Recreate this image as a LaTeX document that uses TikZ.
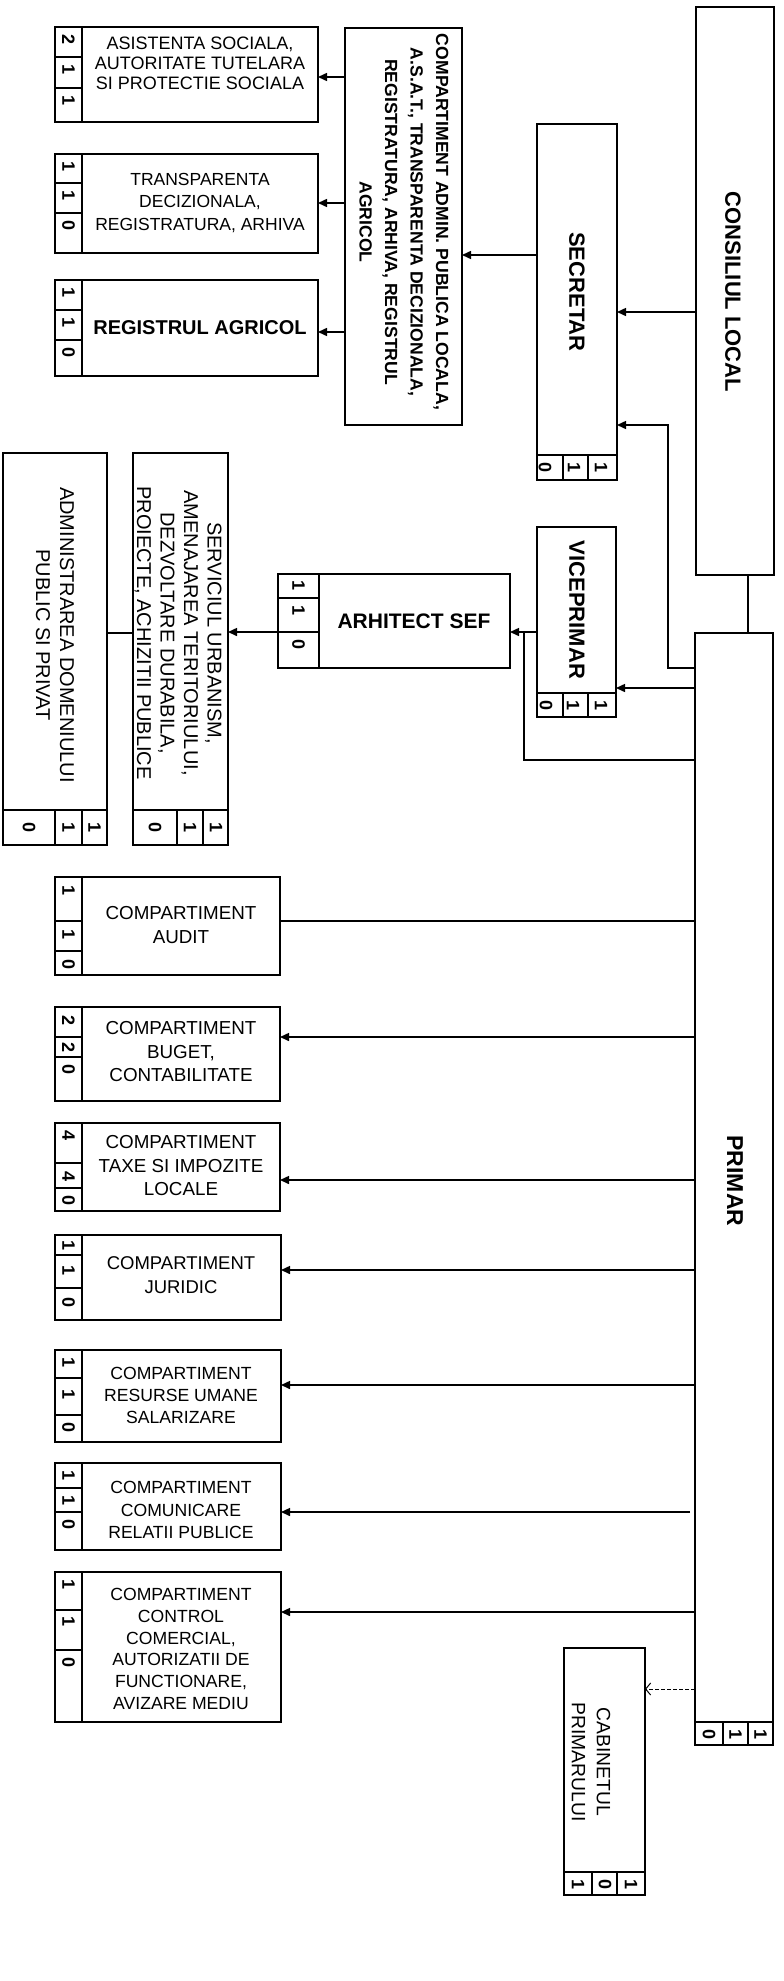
\documentclass[tikz,border=0pt]{standalone}
\usepackage{fontspec}
\setmainfont{Liberation Sans}
\usetikzlibrary{arrows.meta}
\newcommand\fs[2]{\fontsize{#1}{#2}\selectfont}
\tikzset{
  box/.style={draw, line width=2.4pt, inner sep=0pt, outer sep=0pt, anchor=north west},
  cell/.style={line width=1.8pt},
  conn/.style={line width=1.5pt},
  arr/.style={conn, -{Triangle[length=9pt,width=8pt]}},
  cabarr/.style={line width=1pt, dash pattern=on 4pt off 2pt, -{Straight Barb[length=5pt,width=12pt]}},
  digit/.style={rotate=-90, inner sep=0pt, font=\fs{18}{18}\bfseries},
  htext/.style={align=center, inner sep=0pt},
  vtext/.style={rotate=-90, align=center, inner sep=0pt},
}
% left-strip box: name x1 y1 x2 y2 stripx d1 d2
\newcommand\lbox[8]{%
  \node[box, minimum width={#4-#2}, minimum height={#5-#3}] (#1) at (#2,#3) {};
  \draw[cell] (#6,#3) -- (#6,#5);
  \draw[cell] (#2,#7) -- (#6,#7);
  \draw[cell] (#2,#8) -- (#6,#8);
}
% bottom-strip box: name x1 y1 x2 y2 stripy d1 d2
\newcommand\vertbox[8]{%
  \node[box, minimum width={#4-#2}, minimum height={#5-#3}] (#1) at (#2,#3) {};
  \draw[cell] (#2,#6) -- (#4,#6);
  \draw[cell] (#7,#6) -- (#7,#5);
  \draw[cell] (#8,#6) -- (#8,#5);
}
% digits in a left strip: name x ya yb yc a b c
\newcommand\ldig[8]{%
  \node[digit] (#1-a) at (#2,#3) {#6};
  \node[digit] (#1-b) at (#2,#4) {#7};
  \node[digit] (#1-c) at (#2,#5) {#8};
}
% digits in a bottom strip: name y xa xb xc a b c
\newcommand\vdig[8]{%
  \node[digit] (#1-a) at (#3,#2) {#6};
  \node[digit] (#1-b) at (#4,#2) {#7};
  \node[digit] (#1-c) at (#5,#2) {#8};
}
\begin{document}
\begin{tikzpicture}[x=1pt,y=-1pt]
\useasboundingbox (0,0) rectangle (784,1981);
\fill[white] (0,0) rectangle (784,1981);

% ---------- top-left boxes
\lbox{asist}{55}{27}{318}{122}{82}{57}{88}
\ldig{asist}{68.5}{40}{70}{101}{2}{1}{1}
\node[htext, font=\fs{18}{20}] (asist-t) at (200,63) {ASISTENTA SOCIALA,\\AUTORITATE TUTELARA\\SI PROTECTIE SOCIALA};

\lbox{transp}{55}{154}{318}{253}{82}{183}{213}
\ldig{transp}{68.5}{167}{196}{226}{1}{1}{0}
\node[htext, font=\fs{17.5}{22.5}] (transp-t) at (200,203) {TRANSPARENTA\\DECIZIONALA,\\REGISTRATURA, ARHIVA};

\lbox{agric}{55}{280}{318}{376}{82}{310}{340}
\ldig{agric}{68.5}{293}{323}{353}{1}{1}{0}
\node[htext, font=\fs{20}{24}\bfseries] (agric-t) at (200,328) {REGISTRUL AGRICOL};

% ---------- admin compartment
\node[box, minimum width={462-345}, minimum height={425-28}] (admin) at (345,28) {};
\node[vtext, font=\fs{17.6}{25.5}\bfseries] (admin-t) at (404,222) {COMPARTIMENT ADMIN. PUBLICA LOCALA,\\A.S.A.T., TRANSPARENTA DECIZIONALA,\\REGISTRATURA, ARHIVA, REGISTRUL\\AGRICOL};

% ---------- secretar, consiliu
\vertbox{secr}{537}{124}{617}{480}{455}{563}{588}
\vdig{secr}{467}{545}{574}{601}{0}{1}{1}
\node[vtext, font=\fs{22}{26}\bfseries] (secr-t) at (577,292) {SECRETAR};

\node[box, minimum width={774-696}, minimum height={575-7}] (cons) at (696,7) {};
\node[vtext, font=\fs{22}{26}\bfseries] (cons-t) at (733,292) {CONSILIUL LOCAL};

% ---------- viceprimar, arhitect
\vertbox{vice}{537}{527}{616}{717}{693}{563}{588}
\vdig{vice}{705}{546}{573}{601}{0}{1}{1}
\node[vtext, font=\fs{22}{26}\bfseries] (vice-t) at (577,610) {VICEPRIMAR};

\lbox{arh}{278}{574}{510}{668}{319}{598}{632}
\ldig{arh}{298.5}{585}{610}{644}{1}{1}{0}
\node[htext, font=\fs{21}{24}\bfseries] (arh-t) at (414,621) {ARHITECT SEF};

% ---------- serviciul, administrarea
\vertbox{serv}{133}{453}{228}{845}{810}{177}{203}
\vdig{serv}{827}{155}{190}{216}{0}{1}{1}
\node[vtext, font=\fs{20}{23.5}] (serv-t) at (178,633) {SERVICIUL URBANISM,\\AMENAJAREA TERITORIULUI,\\DEZVOLTARE DURABILA,\\PROIECTE, ACHIZITII PUBLICE};

\vertbox{adm}{3}{453}{107}{845}{810}{55}{82}
\vdig{adm}{827}{29}{68.5}{94.5}{0}{1}{1}
\node[vtext, font=\fs{20}{24}] (adm-t) at (55,635) {ADMINISTRAREA DOMENIULUI\\PUBLIC SI PRIVAT};

% ---------- primar
\vertbox{primar}{695}{633}{773}{1745}{1722}{723}{748}
\vdig{primar}{1734}{709}{735.5}{760.5}{0}{1}{1}
\node[vtext, font=\fs{23}{26}\bfseries] (primar-t) at (735,1181) {PRIMAR};

% ---------- cabinet
\vertbox{cab}{564}{1648}{645}{1895}{1872}{592}{617}
\vdig{cab}{1884}{578}{605}{631}{1}{0}{1}
\node[vtext, font=\fs{19.3}{25}] (cab-t) at (591,1762) {CABINETUL\\PRIMARULUI};

% ---------- compartments under primar
\lbox{audit}{55}{877}{280}{975}{82}{921}{951}
\ldig{audit}{68.5}{890}{934}{964}{1}{1}{0}
\node[htext, font=\fs{18.8}{23.5}] (audit-t) at (181,925) {COMPARTIMENT\\AUDIT};

\lbox{buget}{55}{1007}{280}{1101}{82}{1037}{1057}
\ldig{buget}{68.5}{1020}{1047}{1069}{2}{2}{0}
\node[htext, font=\fs{18.8}{23.5}] (buget-t) at (181,1052) {COMPARTIMENT\\BUGET,\\CONTABILITATE};

\lbox{taxe}{55}{1123}{280}{1211}{82}{1163}{1188}
\ldig{taxe}{68.5}{1135}{1176}{1200}{4}{4}{0}
\node[htext, font=\fs{18.8}{23.5}] (taxe-t) at (181,1166) {COMPARTIMENT\\TAXE SI IMPOZITE\\LOCALE};

\lbox{jur}{55}{1235}{281}{1320}{82}{1255}{1288}
\ldig{jur}{68.5}{1245}{1270}{1302}{1}{1}{0}
\node[htext, font=\fs{18.5}{24}] (jur-t) at (181,1275) {COMPARTIMENT\\JURIDIC};

\lbox{res}{55}{1350}{281}{1442}{82}{1378}{1415}
\ldig{res}{68.5}{1362}{1394}{1427}{1}{1}{0}
\node[htext, font=\fs{17.6}{22}] (res-t) at (181,1395) {COMPARTIMENT\\RESURSE UMANE\\SALARIZARE};

\lbox{com}{55}{1463}{281}{1550}{82}{1488}{1512}
\ldig{com}{68.5}{1475}{1500}{1524}{1}{1}{0}
\node[htext, font=\fs{17.6}{22.5}] (com-t) at (181,1510) {COMPARTIMENT\\COMUNICARE\\RELATII PUBLICE};

\lbox{ctrl}{55}{1572}{281}{1722}{82}{1610}{1650}
\ldig{ctrl}{68.5}{1584}{1621}{1662}{1}{1}{0}
\node[htext, font=\fs{17.6}{21.7}] (ctrl-t) at (181,1649) {COMPARTIMENT\\CONTROL\\COMERCIAL,\\AUTORIZATII DE\\FUNCTIONARE,\\AVIZARE MEDIU};

% ---------- connectors
\coordinate (cs) at (696,312);
\draw[arr] (cs) -- (cs -| secr.east);
\coordinate (cp) at (748,575);
\draw[conn] (cp) -- (cp |- primar.north);
\coordinate (ps) at (695,668);
\coordinate (ss) at (617,425);
\draw[arr] (ps) -| (668,425) -- (ss);
\coordinate (pv) at (695,688);
\draw[arr] (pv) -- (pv -| vice.east);
\coordinate (va) at (537,632);
\draw[arr] (va) -- (va -| arh.east);
\coordinate (pa) at (695,760);
\draw[conn] (pa) -| (524,632);
\coordinate (sa) at (537,255);
\draw[arr] (sa) -- (sa -| admin.east);
\coordinate (a1) at (345,77);
\coordinate (a2) at (345,203);
\coordinate (a3) at (345,332);
\draw[arr] (a1) -- (a1 -| asist.east);
\draw[arr] (a2) -- (a2 -| transp.east);
\draw[arr] (a3) -- (a3 -| agric.east);
\coordinate (as) at (278,632);
\draw[arr] (as) -- (as -| serv.east);
\coordinate (sd) at (133,633);
\draw[conn] (sd) -- (sd -| adm.east);

\coordinate (p1) at (695,921);
\coordinate (p2) at (695,1037);
\coordinate (p3) at (695,1180);
\coordinate (p4) at (695,1270);
\coordinate (p5) at (695,1385);
\coordinate (p6) at (690,1512);
\coordinate (p7) at (695,1612);
\coordinate (p8) at (695,1689);
\draw[conn] (p1) -- (p1 -| audit.east);
\draw[arr] (p2) -- (p2 -| buget.east);
\draw[arr] (p3) -- (p3 -| taxe.east);
\draw[arr] (p4) -- (p4 -| jur.east);
\draw[arr] (p5) -- (p5 -| res.east);
\draw[arr] (p6) -- (p6 -| com.east);
\draw[arr] (p7) -- (p7 -| ctrl.east);
\draw[cabarr] (p8) -- (p8 -| cab.east);
\end{tikzpicture}
\end{document}
